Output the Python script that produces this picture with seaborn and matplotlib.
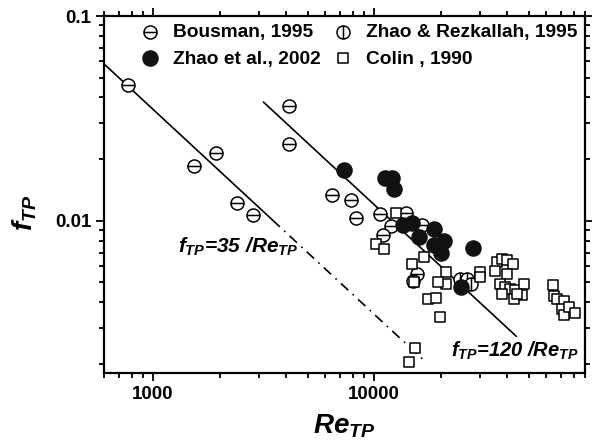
import numpy as np
import pandas as pd
import matplotlib
matplotlib.use("Agg")
import matplotlib.pyplot as plt
import seaborn as sns
from matplotlib.path import Path
from matplotlib.ticker import LogLocator, FixedLocator, FixedFormatter, NullFormatter

# ---- data -------------------------------------------------------------
bousman_re = [769, 1535, 1923, 2393, 2830, 4131, 4107, 6473, 7838, 8260,
              10690, 13960, 11900, 11020, 16500, 15600]
bousman_f = [0.0458, 0.0186, 0.0215, 0.01223, 0.01066, 0.0365, 0.0236, 0.0133,
             0.0127, 0.0103, 0.0108, 0.0109, 0.00939, 0.00852, 0.0095, 0.0055]

zhao_rez_re = [15000, 24500, 26300, 27500]
zhao_rez_f = [0.0051, 0.0052, 0.0052, 0.0049]

zhao02_re = [7340, 11220, 12030, 12360, 13580, 14830, 16030, 18570, 18570,
             20750, 20040, 27990, 24720]
zhao02_f = [0.0178, 0.0161, 0.0161, 0.0143, 0.0095, 0.0098, 0.0083, 0.0091,
            0.0076, 0.0080, 0.0070, 0.0074, 0.00475]

colin_re = [12530, 10180, 11100, 16900, 14830, 15100, 21130, 21200, 19560,
            17500, 19140, 19910, 15340, 14450, 30200, 30200,
            35970, 37900, 39900, 42350, 35300, 39900, 37240, 39280, 41300,
            43550, 47480, 46670, 37900, 42760, 44500,
            64600, 65000, 67300, 72100, 70900, 72100, 75900, 81400]
colin_f = [0.0109, 0.0077, 0.00726, 0.00664, 0.00616, 0.0050, 0.00565, 0.00492,
           0.00502, 0.00416, 0.0042, 0.00339, 0.00238, 0.00205, 0.00565, 0.00531,
           0.00628, 0.00652, 0.0064, 0.00616, 0.00571, 0.00551, 0.00492, 0.00475,
           0.00466, 0.00457, 0.00492, 0.00432, 0.0044, 0.00416, 0.0044,
           0.00487, 0.00429, 0.00416, 0.00404, 0.00372, 0.00348, 0.0038, 0.00356]

# correlations f_TP = C / Re_TP
c_low, c_high = 35, 120
low_solid_re = [600, 3470]
low_dashed_re = [3470, 16800]
high_re = [3160, 44000]

x_ticks = [1000, 10000]
x_ticklabels = ["1000", "10000"]
y_ticks = [0.01, 0.1]
y_ticklabels = ["0.01", "0.1"]

# ---- style ------------------------------------------------------------
sns.set_theme(style="ticks")
plt.rcParams["font.family"] = ["Liberation Sans", "DejaVu Sans"]
plt.rcParams["font.weight"] = "bold"
for key in ["text.color", "axes.labelcolor", "xtick.color", "ytick.color",
            "axes.edgecolor"]:
    plt.rcParams[key] = "black"
plt.rcParams["mathtext.fontset"] = "custom"
plt.rcParams["mathtext.it"] = "Liberation Sans:italic:bold"
plt.rcParams["mathtext.rm"] = "Liberation Sans:bold"
plt.rcParams["mathtext.bf"] = "Liberation Sans:bold"

# circle markers with a horizontal / vertical bar
circ = Path.unit_circle()
hbar = Path([(-1, 0), (1, 0)], [Path.MOVETO, Path.LINETO])
vbar = Path([(0, -1), (0, 1)], [Path.MOVETO, Path.LINETO])
circle_h = Path.make_compound_path(circ, hbar)
circle_v = Path.make_compound_path(circ, vbar)

fig = plt.figure(figsize=(5.92, 4.47), dpi=100)
ax = fig.add_axes([0.1757, 0.1649, 0.8125, 0.7993])

ax.set_xscale("log")
ax.set_yscale("log")

# correlation lines
lw_line = 1.2
sns.lineplot(x=low_solid_re, y=[c_low / r for r in low_solid_re], ax=ax,
             color="black", lw=lw_line)
sns.lineplot(x=low_dashed_re, y=[c_low / r for r in low_dashed_re], ax=ax,
             color="black", lw=lw_line, dashes=False, linestyle=(0, (6, 3.5, 1, 3.5)))
sns.lineplot(x=high_re, y=[c_high / r for r in high_re], ax=ax,
             color="black", lw=lw_line)

mlw = 1.1
sns.scatterplot(x=bousman_re, y=bousman_f, ax=ax, marker=circle_h, s=88,
                facecolor="white", edgecolor="black", linewidth=mlw,
                label="Bousman, 1995", zorder=3)
sns.scatterplot(x=zhao_rez_re, y=zhao_rez_f, ax=ax, marker=circle_v, s=88,
                facecolor="white", edgecolor="black", linewidth=mlw,
                label="Zhao & Rezkallah, 1995", zorder=3)
sns.scatterplot(x=zhao02_re, y=zhao02_f, ax=ax, marker="o", s=117,
                facecolor="#111111", edgecolor="#111111", linewidth=mlw,
                label="Zhao et al., 2002", zorder=4)
sns.scatterplot(x=colin_re, y=colin_f, ax=ax, marker="s", s=47,
                facecolor="white", edgecolor="black", linewidth=mlw,
                label="Colin , 1990", zorder=5)

ax.set_xlim(600, 90000)
ax.set_ylim(0.0018, 0.1)

# ticks on all four sides, pointing outward
ax.tick_params(which="both", direction="out", top=True, right=True,
               labeltop=False, labelright=False, colors="black", width=1.3)
ax.tick_params(which="major", length=6, labelsize=13.5, pad=3)
ax.tick_params(which="minor", length=3.5)
ax.xaxis.set_major_locator(FixedLocator(x_ticks))
ax.xaxis.set_major_formatter(FixedFormatter(x_ticklabels))
ax.xaxis.set_minor_locator(LogLocator(base=10, subs=np.arange(2, 10)))
ax.xaxis.set_minor_formatter(NullFormatter())
ax.yaxis.set_major_locator(FixedLocator(y_ticks))
ax.yaxis.set_major_formatter(FixedFormatter(y_ticklabels))
ax.yaxis.set_minor_locator(LogLocator(base=10, subs=np.arange(2, 10)))
ax.yaxis.set_minor_formatter(NullFormatter())
for lab in ax.get_xticklabels() + ax.get_yticklabels():
    lab.set_fontweight("bold")
    lab.set_color("black")

for sp in ax.spines.values():
    sp.set_visible(True)
    sp.set_linewidth(1.6)
    sp.set_color("black")

ax.set_xlabel("$Re_{TP}$", fontsize=20, color="black")
ax.set_ylabel("$f_{TP}$", fontsize=20, color="black")
ax.xaxis.set_label_coords(0.5, -0.11)
ax.yaxis.set_label_coords(-0.135, 0.45)

ax.text(0.154, 0.337, "$f_{TP}$=35 /$Re_{TP}$", transform=ax.transAxes,
        fontsize=15, fontstyle="italic", fontweight="bold", va="baseline",
        color="black")
ax.text(0.722, 0.0465, "$f_{TP}$=120 /$Re_{TP}$", transform=ax.transAxes,
        fontsize=14.5, fontstyle="italic", fontweight="bold", va="baseline",
        color="black")

handles, labels = ax.get_legend_handles_labels()
order = [labels.index(n) for n in ["Bousman, 1995", "Zhao et al., 2002",
                                   "Zhao & Rezkallah, 1995", "Colin , 1990"]]
leg = ax.legend([handles[i] for i in order], [labels[i] for i in order], ncol=2,
                loc="upper right", bbox_to_anchor=(1.012, 1.015), frameon=False,
                fontsize=13.8, handletextpad=0.6, columnspacing=0.55,
                labelspacing=0.45, handlelength=1.2, borderaxespad=0.3)
for t in leg.get_texts():
    t.set_color("black")

fig.savefig("out.png", dpi=100)
